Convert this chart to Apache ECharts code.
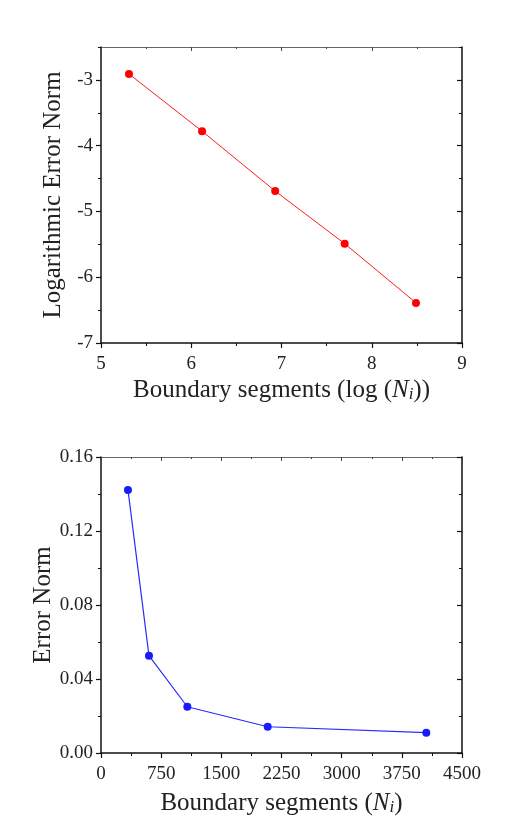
<!DOCTYPE html>
<html>
<head>
<meta charset="utf-8">
<script src="https://cdn.jsdelivr.net/npm/echarts@6/dist/echarts.min.js"></script>
<style>
html,body{margin:0;padding:0;background:#fff;}
#c{width:529px;height:817px;}
</style>
</head>
<body>
<div id="c"></div>
<script>
// Top chart: log(N_i) vs log error norm
var logSegments = [5.31, 6.12, 6.93, 7.70, 8.49];
var logErrorNorm = [-2.91, -3.78, -4.69, -5.49, -6.39];
var topYMajor = [-7, -6, -5, -4, -3];
var topYMinor = [-6.5, -5.5, -4.5, -3.5, -2.5];

// Bottom chart: N_i vs error norm
var segments = [336, 598, 1076, 2078, 4055];
var errorNorm = [0.1422, 0.0526, 0.0250, 0.0142, 0.0110];

var FONT = '"Liberation Serif", "Times New Roman", serif';
var labelStyle = {fontFamily: FONT, fontSize: 19, color: '#222'};

function nameRich() {
  return {
    a: {fontFamily: FONT, fontSize: 25, color: '#222'},
    it: {fontFamily: FONT, fontSize: 25, fontStyle: 'italic', color: '#222'},
    sub: {fontFamily: FONT, fontSize: 17, fontStyle: 'italic', color: '#222', verticalAlign: 'bottom', padding: [9, 0, 0, 0]}
  };
}

var grids = [
  {left: 101, top: 47, width: 361, height: 296},
  {left: 101, top: 457, width: 361, height: 296}
];

function bottomX(gi, min, max, interval, name, gap) {
  return {
    type: 'value', gridIndex: gi, position: 'bottom', min: min, max: max, interval: interval,
    axisLine: {show: true, onZero: false, lineStyle: {color: '#111', width: 1.5}},
    axisTick: {show: true, inside: false, length: 5, lineStyle: {color: '#111', width: 1.2}},
    minorTick: {show: true, splitNumber: 2, length: 3, lineStyle: {color: '#111', width: 1}},
    splitLine: {show: false},
    axisLabel: Object.assign({margin: 12, formatter: function (v) { return String(v); }}, labelStyle),
    name: name, nameLocation: 'middle', nameGap: gap, nameMoveOverlap: false,
    nameTextStyle: {rich: nameRich()}
  };
}
function topX(gi, min, max, interval) {
  return {
    type: 'value', gridIndex: gi, position: 'top', min: min, max: max, interval: interval,
    axisLine: {show: true, onZero: false, lineStyle: {color: '#666', width: 1}},
    axisTick: {show: true, inside: true, length: 4, lineStyle: {color: '#444', width: 1}},
    minorTick: {show: true, splitNumber: 2, length: 2, lineStyle: {color: '#444', width: 1}},
    splitLine: {show: false},
    axisLabel: {show: false}
  };
}

var option = {
  animation: false,
  backgroundColor: '#fff',
  grid: grids,
  xAxis: [
    bottomX(0, 5, 9, 1, '{a|Boundary segments (log (}{it|N}{sub|i}{a|))}', 34),
    topX(0, 5, 9, 1),
    bottomX(1, 0, 4500, 750, '{a|Boundary segments (}{it|N}{sub|i}{a|)}', 37),
    topX(1, 0, 4500, 750)
  ],
  yAxis: [
    {
      type: 'value', gridIndex: 0, position: 'left', min: -7, max: -2.5,
      axisLine: {show: true, onZero: false, lineStyle: {color: '#111', width: 1.5}},
      axisTick: {show: true, inside: false, length: 5, customValues: topYMajor, lineStyle: {color: '#111', width: 1.2}},
      splitLine: {show: false},
      axisLabel: Object.assign({margin: 8, customValues: topYMajor}, labelStyle),
      name: 'Logarithmic Error Norm', nameLocation: 'middle', nameGap: 35, nameRotate: 90, nameMoveOverlap: false,
      nameTextStyle: {fontFamily: FONT, fontSize: 25, color: '#222'}
    },
    {
      type: 'value', gridIndex: 0, position: 'left', min: -7, max: -2.5,
      axisLine: {show: false},
      axisTick: {show: true, inside: false, length: 3, customValues: topYMinor, lineStyle: {color: '#111', width: 1}},
      splitLine: {show: false}, axisLabel: {show: false}
    },
    {
      type: 'value', gridIndex: 0, position: 'right', min: -7, max: -2.5,
      axisLine: {show: true, onZero: false, lineStyle: {color: '#111', width: 1.5}},
      axisTick: {show: true, inside: true, length: 5, customValues: topYMajor, lineStyle: {color: '#111', width: 1.2}},
      splitLine: {show: false}, axisLabel: {show: false}
    },
    {
      type: 'value', gridIndex: 0, position: 'right', min: -7, max: -2.5,
      axisLine: {show: false},
      axisTick: {show: true, inside: true, length: 3, customValues: topYMinor, lineStyle: {color: '#111', width: 1}},
      splitLine: {show: false}, axisLabel: {show: false}
    },
    {
      type: 'value', gridIndex: 1, position: 'left', min: 0, max: 0.16, interval: 0.04,
      axisLine: {show: true, onZero: false, lineStyle: {color: '#111', width: 1.5}},
      axisTick: {show: true, inside: false, length: 5, lineStyle: {color: '#111', width: 1.2}},
      minorTick: {show: true, splitNumber: 2, length: 3, lineStyle: {color: '#111', width: 1}},
      splitLine: {show: false},
      axisLabel: Object.assign({margin: 8, formatter: function (v) { return v.toFixed(2); }}, labelStyle),
      name: 'Error Norm', nameLocation: 'middle', nameGap: 45, nameRotate: 90, nameMoveOverlap: false,
      nameTextStyle: {fontFamily: FONT, fontSize: 25, color: '#222'}
    },
    {
      type: 'value', gridIndex: 1, position: 'right', min: 0, max: 0.16, interval: 0.04,
      axisLine: {show: true, onZero: false, lineStyle: {color: '#111', width: 1.5}},
      axisTick: {show: true, inside: true, length: 5, lineStyle: {color: '#111', width: 1.2}},
      minorTick: {show: true, splitNumber: 2, length: 3, lineStyle: {color: '#111', width: 1}},
      splitLine: {show: false}, axisLabel: {show: false}
    }
  ],
  series: [
    {
      type: 'line', xAxisIndex: 0, yAxisIndex: 0,
      data: logSegments.map(function (x, i) { return [x, logErrorNorm[i]]; }),
      symbol: 'circle', symbolSize: 8, showAllSymbol: true,
      lineStyle: {color: '#ff1a1a', width: 1},
      itemStyle: {color: '#ff0000'}
    },
    {
      type: 'line', xAxisIndex: 2, yAxisIndex: 4,
      data: segments.map(function (x, i) { return [x, errorNorm[i]]; }),
      symbol: 'circle', symbolSize: 8, showAllSymbol: true,
      lineStyle: {color: '#2a2aff', width: 1.2},
      itemStyle: {color: '#1a1aff'}
    }
  ]
};

var chart = echarts.init(document.getElementById('c'), null, {renderer: 'canvas'});
chart.setOption(option);
</script>
</body>
</html>
